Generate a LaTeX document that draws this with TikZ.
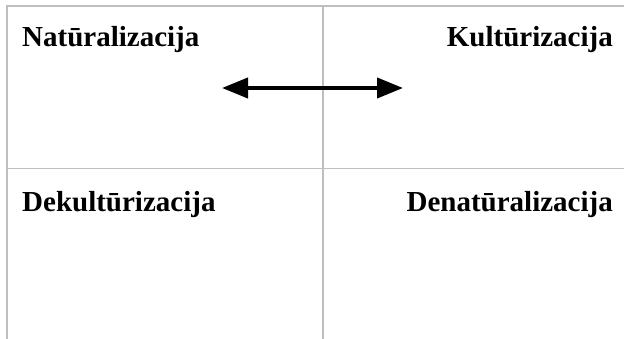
\documentclass[tikz,border=0pt]{standalone}
\usepackage{fontspec}
\setmainfont{Liberation Serif}
\usetikzlibrary{arrows.meta}
\begin{document}
\begin{tikzpicture}[x=1pt,y=1pt,
  gridline/.style={draw={rgb,255:red,190;green,190;blue,190}, line width=1.5pt},
  lbl/.style={font=\fontsize{29}{34}\selectfont\bfseries, inner sep=0pt},
  bigtip/.style={line width=4pt, {Triangle[length=26pt,width=20pt]}-{Triangle[length=26pt,width=20pt]}}]
\useasboundingbox (0,0) rectangle (624,339);
\draw[gridline] (7,0) -- (7,333) -- (624,333);
\draw[gridline] (323,0) -- (323,333);
\draw[gridline] (7,170.3) -- (624,170.3);
\node[lbl, anchor=base west] (nat) at (22,292.3) {Natūralizacija};
\node[lbl, anchor=base east] (kul) at (613,292.3) {Kultūrizacija};
\node[lbl, anchor=base west] (dek) at (22,127.3) {Dekultūrizacija};
\node[lbl, anchor=base east] (den) at (613,127.3) {Denatūralizacija};
\coordinate (aL) at (222,251);
\coordinate (aR) at (403,251);
\draw[bigtip] (aL) -- (aR);
\end{tikzpicture}
\end{document}
